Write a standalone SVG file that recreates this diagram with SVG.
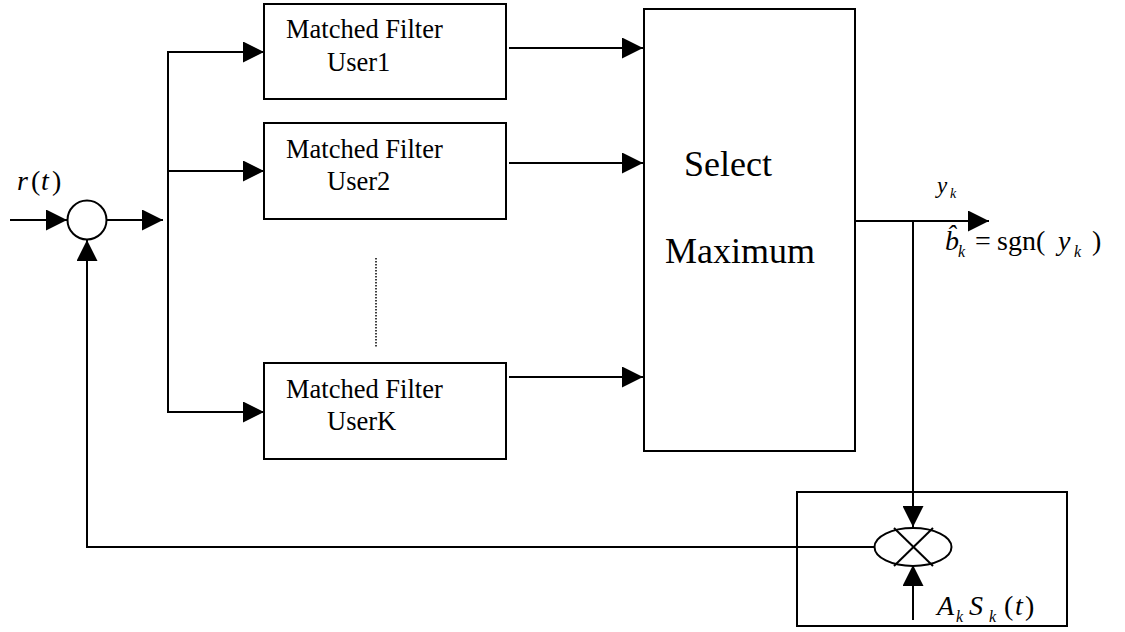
<svg xmlns="http://www.w3.org/2000/svg" width="1125" height="632" viewBox="0 0 1125 632" font-family="'Liberation Serif','Times New Roman',serif">
<defs>
<marker id="arr" markerUnits="userSpaceOnUse" markerWidth="21" markerHeight="21" refX="21" refY="10.5" orient="auto">
<path d="M0,0 L21,10.5 L0,21 z" fill="#000"/>
</marker>
<style>
.ln{fill:none;stroke:#000;stroke-width:2}
.box{fill:#fff;stroke:#000;stroke-width:2}
.t{font-family:"Liberation Serif","Times New Roman",serif;fill:#000}
.mf{font-size:26.5px}
.big{font-size:36px}
.m{font-size:28px}
.i{font-style:italic}
.sub{font-size:16px;font-style:italic}
.ys{font-size:23px;font-style:italic}
.yks{font-size:14px;font-style:italic}
</style>
</defs>
<rect width="1125" height="632" fill="#fff"/>
<g id="connectors">
<line class="ln" x1="10" y1="220" x2="67" y2="220" marker-end="url(#arr)"/>
<line class="ln" x1="107" y1="220" x2="163" y2="220" marker-end="url(#arr)"/>
<polyline class="ln" points="168,52 168,412"/>
<line class="ln" x1="167" y1="52" x2="264" y2="52" marker-end="url(#arr)"/>
<line class="ln" x1="168" y1="171" x2="264" y2="171" marker-end="url(#arr)"/>
<line class="ln" x1="167" y1="412" x2="264" y2="412" marker-end="url(#arr)"/>
<line x1="376" y1="258" x2="376" y2="348" stroke="#000" stroke-width="1.5" stroke-dasharray="1.5,1.5"/>
<line class="ln" x1="509" y1="48" x2="643" y2="48" marker-end="url(#arr)"/>
<line class="ln" x1="509" y1="163" x2="643" y2="163" marker-end="url(#arr)"/>
<line class="ln" x1="509" y1="377" x2="643" y2="377" marker-end="url(#arr)"/>
<line class="ln" x1="855" y1="221" x2="989" y2="221" marker-end="url(#arr)"/>
<line class="ln" x1="913" y1="221" x2="913" y2="527" marker-end="url(#arr)"/>
<line class="ln" x1="913" y1="620" x2="913" y2="565" marker-end="url(#arr)"/>
<polyline class="ln" points="874,547 87,547 87,240" marker-end="url(#arr)"/>
</g>
<g id="sum">
<circle class="ln" cx="87" cy="220" r="19.5"/>
<text class="t m" y="190"><tspan class="i" x="17">r</tspan><tspan x="31">(</tspan><tspan class="i" x="41">t</tspan><tspan x="52">)</tspan></text>
</g>
<g id="mf1">
<rect class="box" x="264" y="4" width="242" height="95"/>
<text class="t mf" x="286" y="38">Matched Filter</text>
<text class="t mf" x="327" y="71">User1</text>
</g>
<g id="mf2">
<rect class="box" x="264" y="123" width="242" height="96"/>
<text class="t mf" x="286" y="158">Matched Filter</text>
<text class="t mf" x="327" y="190">User2</text>
</g>
<g id="mfK">
<rect class="box" x="264" y="363" width="242" height="96"/>
<text class="t mf" x="286" y="398">Matched Filter</text>
<text class="t mf" x="327" y="430">UserK</text>
</g>
<g id="select">
<rect class="box" x="644" y="9" width="211" height="442"/>
<text class="t big" x="684" y="176">Select</text>
<text class="t big" x="665" y="263">Maximum</text>
</g>
<g id="out-labels">
<text class="t" y="193"><tspan class="ys" x="937">y</tspan><tspan class="yks" x="950" y="198">k</tspan></text>
<text class="t m" y="250"><tspan class="i" x="945">b&#x302;</tspan><tspan class="sub" x="958" y="257">k</tspan><tspan x="975" y="250">=</tspan><tspan x="997">sgn(</tspan><tspan class="i" x="1058">y</tspan><tspan class="sub" x="1074" y="257">k</tspan><tspan x="1092" y="250">)</tspan></text>
</g>
<g id="multiplier">
<rect x="797" y="492" width="270" height="134" fill="none" stroke="#000" stroke-width="2"/>
<ellipse class="ln" cx="913" cy="547" rx="38.5" ry="19"/>
<line class="ln" x1="894" y1="528" x2="933" y2="566"/>
<line class="ln" x1="933" y1="528" x2="894" y2="566"/>
<text class="t m" y="615"><tspan class="i" x="937">A</tspan><tspan class="sub" x="956" y="622">k</tspan><tspan class="i" x="969" y="615">S</tspan><tspan class="sub" x="989" y="622">k</tspan><tspan x="1004" y="615">(</tspan><tspan class="i" x="1015">t</tspan><tspan x="1025">)</tspan></text>
</g>
</svg>
